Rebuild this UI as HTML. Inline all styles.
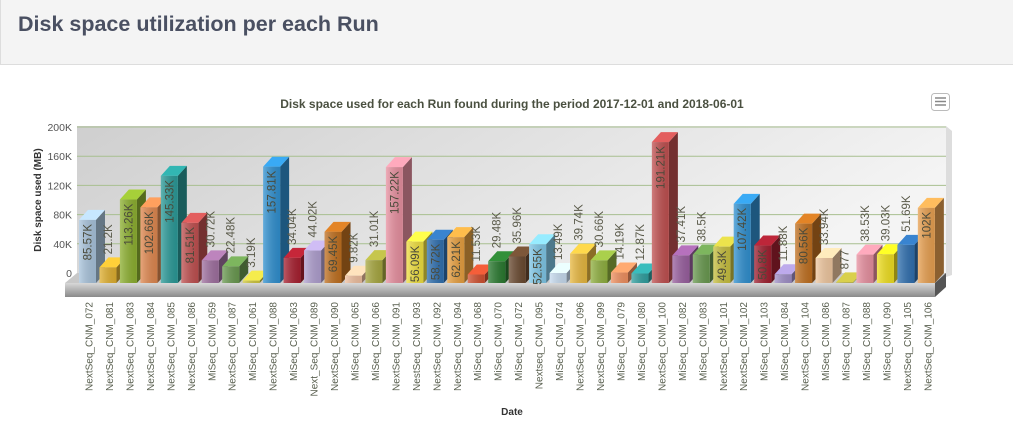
<!DOCTYPE html>
<html><head><meta charset="utf-8"><style>
body{margin:0;width:1013px;height:441px;overflow:hidden;background:#fff;font-family:"Liberation Sans",sans-serif}
#hdr{position:absolute;left:0;top:0;width:1013px;height:65px;background:#f4f4f4;border-bottom:1px solid #ddd;border-left:1px solid #ddd;box-sizing:border-box}
#hdr h1{margin:0;position:absolute;left:17px;top:12px;font-size:21.5px;font-weight:bold;color:#4a5062}
</style></head><body>
<div id="hdr"><h1>Disk space utilization per each Run</h1></div>
<svg id="chart" width="1013" height="441" style="position:absolute;left:0;top:0">
<defs>
<linearGradient id="wall" x1="0" y1="0" x2="1" y2="0.3"><stop offset="0" stop-color="#cfcfcf"/><stop offset="1" stop-color="#f4f4f4"/></linearGradient>
<linearGradient id="slab" x1="0" y1="0" x2="0" y2="1"><stop offset="0" stop-color="#d8d8d8"/><stop offset="1" stop-color="#8a8a8a"/></linearGradient>
<linearGradient id="shade" x1="0" y1="0" x2="1" y2="0"><stop offset="0" stop-color="#fff" stop-opacity="0.25"/><stop offset="1" stop-color="#000" stop-opacity="0.1"/></linearGradient>
</defs>
<g id="g"></g>
</svg>
<script>
const categories=["NextSeq_CNM_072","NextSeq_CNM_081","NextSeq_CNM_083","NextSeq_CNM_084","NextSeq_CNM_085","NextSeq_CNM_086","MiSeq_CNM_059","NextSeq_CNM_087","MiSeq_CNM_061","NextSeq_CNM_088","MiSeq_CNM_063","Next_Seq_CNM_089","NextSeq_CNM_090","MiSeq_CNM_065","MiSeq_CNM_066","NextSeq_CNM_091","NestSeq_CNM_093","NextSeq_CNM_092","NextSeq_CNM_094","MiSeq_CNM_068","MiSeq_CNM_070","MiSeq_CNM_072","Nextseq_CNM_095","MiSeq_CNM_074","NextSeq_CNM_096","NextSeq_CNM_099","MiSeq_CNM_079","MiSeq_CNM_080","NextSeq_CNM_100","MiSeq_CNM_082","MiSeq_CNM_083","NextSeq_CNM_101","NextSeq_CNM_102","MiSeq_CNM_103","MiSeq_CNM_084","NextSeq_CNM_104","MiSeq_CNM_086","MiSeq_CNM_087","MiSeq_CNM_088","MiSeq_CNM_090","NextSeq_CNM_105","NextSeq_CNM_106"];
const values=[85.57,21.2,113.26,102.66,145.33,81.51,30.72,22.48,3.19,157.81,34.04,44.02,69.45,9.82,31.01,157.22,56.09,58.72,62.21,11.53,29.48,35.96,52.55,13.49,39.74,30.66,14.19,12.87,191.21,37.41,38.5,49.3,107.42,50.8,11.88,80.56,33.94,0.877,38.53,39.03,51.69,102];
const valueLabels=["85.57K","21.2K","113.26K","102.66K","145.33K","81.51K","30.72K","22.48K","3.19K","157.81K","34.04K","44.02K","69.45K","9.82K","31.01K","157.22K","56.09K","58.72K","62.21K","11.53K","29.48K","35.96K","52.55K","13.49K","39.74K","30.66K","14.19K","12.87K","191.21K","37.41K","38.5K","49.3K","107.42K","50.8K","11.88K","80.56K","33.94K","877","38.53K","39.03K","51.69K","102K"];
const colors=["#a9c4dc","#e0b030","#8db030","#e08850","#2a9a98","#c05050","#a070a0","#6a9a50","#d0c840","#3090d0","#a82030","#b0a0d0","#c07020","#f0c0a0","#a8a840","#e890a0","#f0e040","#3070b0","#e8a040","#d05030","#2a7a30","#6a4a30","#80c8e8","#c8dcf0","#e8b840","#90b040","#f09060","#30a0a0","#c05050","#9a60a0","#6a9a50","#c8c040","#3090d0","#a02030","#a090c8","#c07020","#f0c8a0","#b8b040","#e890a0","#f0e020","#3070b0","#e8a050"];
const yTicks=[0,40,80,120,160,200];
const yTickLabels=["0","40K","80K","120K","160K","200K"];
const NS="http://www.w3.org/2000/svg",g=document.getElementById('g');
function el(t,a,p){const e=document.createElementNS(NS,t);for(const k in a)e.setAttribute(k,a[k]);(p||g).appendChild(e);return e;}
const front0=283,scale=0.737,dx=9,dy=10;
function yF(v){return front0-v*scale;}
function yB(v){return front0-dy-v*(146/200);}
function xC(i){return 87.5+i*20.46;}
function shadeC(c,f){const n=parseInt(c.slice(1),16);let r=n>>16,gg=(n>>8)&255,b=n&255;r=Math.round(r*f);gg=Math.round(gg*f);b=Math.round(b*f);return `rgb(${Math.min(255,r)},${Math.min(255,gg)},${Math.min(255,b)})`;}
let t=el('text',{x:512,y:108,'text-anchor':'middle','font-size':12,'font-weight':'bold',fill:'#4a5040'});t.textContent='Disk space used for each Run found during the period 2017-12-01 and 2018-06-01';


let m=el('rect',{x:931.5,y:93.5,width:18,height:17,rx:3,fill:'#fff',stroke:'#bbb'});


for(let k=0;k<3;k++)el('line',{x1:935,x2:946,y1:98+k*3.5,y2:98+k*3.5,stroke:'#888','stroke-width':1.5});
let w=el('rect',{x:77,y:126,width:869,height:151,fill:'url(#wall)'});


el('path',{d:'M946 126 L952 131 L952 275 L946 277Z',fill:'#ddd'});
yTicks.forEach((v,i)=>{const y=yB(v);
 if(v>0){const l=el('line',{x1:77,x2:946,y1:y,y2:y,stroke:'#a8bf90','stroke-width':1});}
 const tx=el('text',{x:72,y:y+4,'text-anchor':'end','font-size':10.5,fill:'#555'});tx.textContent=yTickLabels[i];
 
 });
el('path',{d:'M65 283 L77 273 L946 273 L935 283Z',fill:'#c8c8c8'});
let s=el('rect',{x:65,y:283,width:870,height:14,fill:'url(#slab)'});


el('path',{d:'M935 283 L946 273 L946 287 L935 297Z',fill:'#555'});
let yt=el('text',{transform:'translate(41,200) rotate(-90)','text-anchor':'middle','font-size':10,'font-weight':'bold',fill:'#333'});yt.textContent='Disk space used (MB)';


let xt=el('text',{x:512,y:415,'text-anchor':'middle','font-size':10,'font-weight':'bold',fill:'#333'});xt.textContent='Date';


values.forEach((v,i)=>{
 const c=colors[i],x=xC(i)-8.5,w=17,top=yF(v);
 const bg=el('g',{});
 
 
 el('path',{d:`M${x+w} ${top} L${x+w+dx} ${top-dy} L${x+w+dx} ${front0-dy} L${x+w} ${front0}Z`,fill:shadeC(c,0.6)},bg);
 el('path',{d:`M${x} ${top} L${x+dx} ${top-dy} L${x+w+dx} ${top-dy} L${x+w} ${top}Z`,fill:shadeC(c,1.18)},bg);
 el('rect',{x:x,y:top,width:w,height:front0-top,fill:c},bg);
 el('rect',{x:x,y:top,width:w,height:front0-top,fill:'url(#shade)'},bg);
 const inside=v>=49&&v!==51.69;
 const ly=inside?top+4:top-13;
 const lt=el('text',{transform:`translate(${xC(i)+4},${ly}) rotate(-90)`,'text-anchor':inside?'end':'start','font-size':11.5,fill:inside?'#4a4a3a':'#5a5a4a'});
 lt.textContent=valueLabels[i];
 
 
 const xl=el('text',{transform:`translate(${xC(i)+5},302) rotate(-90)`,'text-anchor':'end','font-size':10,fill:'#5a6050'});
 xl.textContent=categories[i];
 
 
});
</script>
</body></html>
